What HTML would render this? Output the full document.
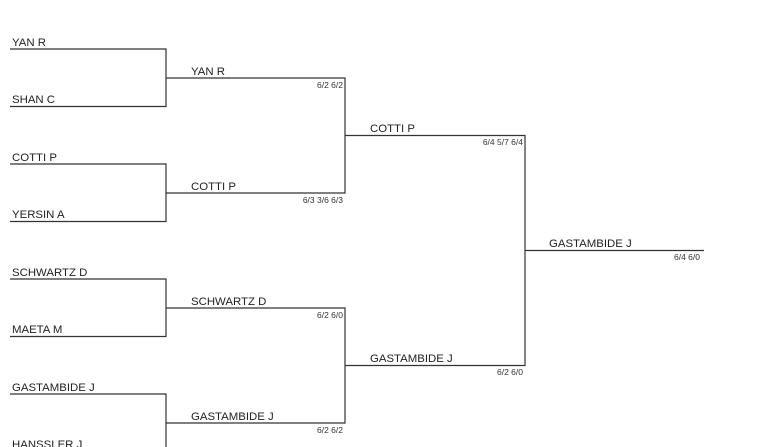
<!DOCTYPE html>
<html><head><style>
body{margin:0;background:#fff;width:770px;height:447px;overflow:hidden;font-family:"Liberation Sans",Arial,sans-serif}
</style></head><body>
<svg width="770" height="447" xmlns="http://www.w3.org/2000/svg" style="position:absolute;left:0;top:0">
<g stroke="#333" stroke-width="1.2" fill="none">
<path d="M10 49H166V106.5H10"/>
<path d="M10 164H166V221.5H10"/>
<path d="M10 279H166V336.5H10"/>
<path d="M10 394H166V451.5H10"/>
<path d="M166 78H345V193H166"/>
<path d="M166 308H345V423H166"/>
<path d="M345 135.5H525V365.5H345"/>
<path d="M525 250.5H704"/>
</g>
<g font-size="11.4" fill="#222">
<text x="12" y="46">YAN R</text>
<text x="12" y="103">SHAN C</text>
<text x="12" y="161">COTTI P</text>
<text x="12" y="218">YERSIN A</text>
<text x="12" y="276">SCHWARTZ D</text>
<text x="12" y="333">MAETA M</text>
<text x="12" y="391">GASTAMBIDE J</text>
<text x="12" y="448">HANSSLER J</text>
<text x="191" y="75">YAN R</text>
<text x="191" y="190">COTTI P</text>
<text x="191" y="305">SCHWARTZ D</text>
<text x="191" y="420">GASTAMBIDE J</text>
<text x="370" y="132">COTTI P</text>
<text x="370" y="362">GASTAMBIDE J</text>
<text x="549" y="247">GASTAMBIDE J</text>
</g>
<g font-size="8.5" fill="#333" text-anchor="end">
<text x="343" y="88">6/2 6/2</text>
<text x="343" y="203">6/3 3/6 6/3</text>
<text x="343" y="318">6/2 6/0</text>
<text x="343" y="433">6/2 6/2</text>
<text x="523" y="145">6/4 5/7 6/4</text>
<text x="523" y="375">6/2 6/0</text>
<text x="700" y="260">6/4 6/0</text>
</g>
</svg>
</body></html>
